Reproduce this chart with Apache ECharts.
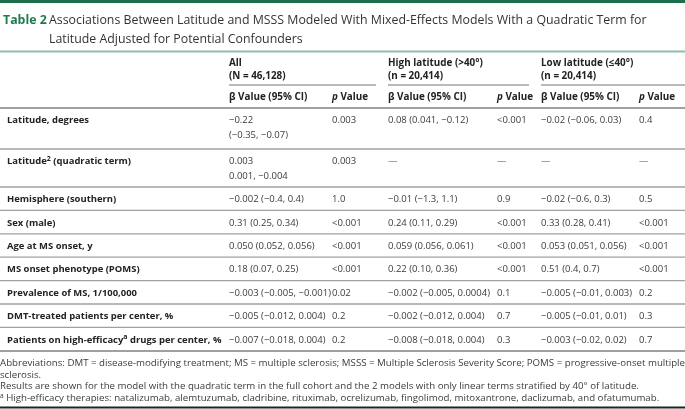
<!DOCTYPE html>
<html><head><meta charset="utf-8">
<script src="https://cdn.jsdelivr.net/npm/echarts@6/dist/echarts.min.js"></script>
<style>html,body{margin:0;padding:0;background:#fff}#c{width:685px;height:409px}</style>
</head><body><div id="c"></div>
<script>
// ---- data ----
const titleLabel = 'Table 2';
const titleLines = ['Associations Between Latitude and MSSS Modeled With Mixed-Effects Models With a Quadratic Term for', 'Latitude Adjusted for Potential Confounders'];
const groupNames = ['All', 'High latitude (>40°)', 'Low latitude (≤40°)'];
const groupN = ['(N = 46,128)', '(n = 20,414)', '(n = 20,414)'];
const colHeaders = ['β Value (95% CI)', 'p Value'];
const rowLabels = ['Latitude, degrees', 'Latitude² (quadratic term)', 'Hemisphere (southern)', 'Sex (male)', 'Age at MS onset, y', 'MS onset phenotype (POMS)', 'Prevalence of MS, 1/100,000', 'DMT-treated patients per center, %', 'Patients on high-efficacyᵃ drugs per center, %'];
const allBeta = ['−0.22\n(−0.35, −0.07)', '0.003\n0.001, −0.004', '−0.002 (−0.4, 0.4)', '0.31 (0.25, 0.34)', '0.050 (0.052, 0.056)', '0.18 (0.07, 0.25)', '−0.003 (−0.005, −0.001)', '−0.005 (−0.012, 0.004)', '−0.007 (−0.018, 0.004)'];
const allP = ['0.003', '0.003', '1.0', '<0.001', '<0.001', '<0.001', '0.02', '0.2', '0.2'];
const highBeta = ['0.08 (0.041, −0.12)', '—', '−0.01 (−1.3, 1.1)', '0.24 (0.11, 0.29)', '0.059 (0.056, 0.061)', '0.22 (0.10, 0.36)', '−0.002 (−0.005, 0.0004)', '−0.002 (−0.012, 0.004)', '−0.008 (−0.018, 0.004)'];
const highP = ['<0.001', '—', '0.9', '<0.001', '<0.001', '<0.001', '0.1', '0.7', '0.3'];
const lowBeta = ['−0.02 (−0.06, 0.03)', '—', '−0.02 (−0.6, 0.3)', '0.33 (0.28, 0.41)', '0.053 (0.051, 0.056)', '0.51 (0.4, 0.7)', '−0.005 (−0.01, 0.003)', '−0.005 (−0.01, 0.01)', '−0.003 (−0.02, 0.02)'];
const lowP = ['0.4', '—', '0.5', '<0.001', '<0.001', '<0.001', '0.2', '0.3', '0.7'];
const footnotes = [
  'Abbreviations: DMT = disease-modifying treatment; MS = multiple sclerosis; MSSS = Multiple Sclerosis Severity Score; POMS = progressive-onset multiple',
  'sclerosis.',
  'Results are shown for the model with the quadratic term in the full cohort and the 2 models with only linear terms stratified by 40° of latitude.',
  'ᵃ High-efficacy therapies: natalizumab, alemtuzumab, cladribine, rituximab, ocrelizumab, fingolimod, mitoxantrone, daclizumab, and ofatumumab.'
];

// ---- layout ----
const FONT = '"Open Sans", "Noto Sans", sans-serif';
const TXT = '#3b3b3b', LBL = '#222', GREEN = '#1f7a52', RULE = '#a0a0a0';
const BODY = 9.5, HEAD = 9.9, LABEL = 9.45, TITLE = 12.35, FOOT = 9.7;
const colX = [229, 332, 388, 497, 541, 639];
const groupSpan = [[229, 376], [388, 529], [541, 685]];
const rowHeights = [41, 38, 23.4, 23.4, 23.4, 23.4, 23.4, 23.4, 23.6];
const bodyTop = 108;
const lineGap = 14.5;

function richify(s) {
  return s.replace(/²/g, '{sup|2}').replace(/ᵃ/g, '{sup|a}');
}

const g = [];
function text(x, y, s, opt) {
  opt = opt || {};
  g.push({
    type: 'text', x: x, y: y, silent: true,
    style: {
      text: s, fill: opt.fill || TXT,
      font: (opt.weight || 'normal') + ' ' + (opt.size || BODY) + 'px ' + FONT,
      textAlign: opt.align || 'left', textVerticalAlign: 'middle',
      rich: opt.rich
    }
  });
}
function line(x1, y1, x2, y2, color, w) {
  g.push({ type: 'line', silent: true, shape: { x1: x1, y1: y1, x2: x2, y2: y2 }, style: { stroke: color, lineWidth: w } });
}

// top bar
g.push({ type: 'rect', silent: true, shape: { x: 0, y: 0, width: 685, height: 3 }, style: { fill: '#1d6e4d' } });
// title
text(3, 20, titleLabel, { weight: 'bold', size: TITLE, fill: GREEN });
text(49, 20, titleLines[0], { size: TITLE, fill: '#333' });
text(49, 39, titleLines[1], { size: TITLE, fill: '#333' });
line(0, 51.5, 685, 51.5, '#8bbfaa', 2);

// group headers
const boldRich = { i: { fontStyle: 'italic', fontWeight: 'bold', fontSize: HEAD, fontFamily: FONT, fill: LBL } };
groupNames.forEach(function (name, i) {
  const x = colX[i * 2];
  text(x, 63, name, { weight: 'bold', size: HEAD, fill: LBL });
  text(x, 76, groupN[i], { weight: 'bold', size: HEAD, fill: LBL });
  line(groupSpan[i][0], 85, groupSpan[i][1], 85, '#777', 1.2);
  text(x, 97, colHeaders[0], { weight: 'bold', size: HEAD, fill: LBL });
  text(colX[i * 2 + 1], 97, '{i|p} Value', { weight: 'bold', size: HEAD, fill: LBL, rich: boldRich });
});
line(0, 108, 685, 108, RULE, 2);

// body rows
const labRich = { sup: { fontSize: 7, fontWeight: 'bold', fontFamily: FONT, fill: LBL, verticalAlign: 'top', padding: [0, 0, 5, 0] } };
const cols = [allBeta, allP, highBeta, highP, lowBeta, lowP];
let y = bodyTop;
rowLabels.forEach(function (lab, r) {
  const cy = y + 12.5;
  text(7, cy, richify(lab), { weight: 'bold', size: LABEL, fill: LBL, rich: labRich });
  cols.forEach(function (col, c) {
    col[r].split('\n').forEach(function (part, k) {
      text(colX[c], cy + k * lineGap, part, { fill: part === '—' ? '#777' : TXT });
    });
  });
  y += rowHeights[r];
  line(0, y, 685, y, RULE, r === rowLabels.length - 1 ? 2 : 1.3);
});

// footnotes
const footRich = { sup: { fontSize: 6.5, fontFamily: FONT, fill: TXT, verticalAlign: 'top', padding: [0, 0, 4, 0] } };
footnotes.forEach(function (f, i) {
  text(0, 363 + i * 11.8, richify(f), { size: FOOT, rich: footRich });
});
line(0, 407.5, 685, 407.5, '#222', 2);

const chart = echarts.init(document.getElementById('c'), null, { renderer: 'canvas' });
chart.setOption({ animation: false, graphic: { elements: g } });
</script></body></html>
